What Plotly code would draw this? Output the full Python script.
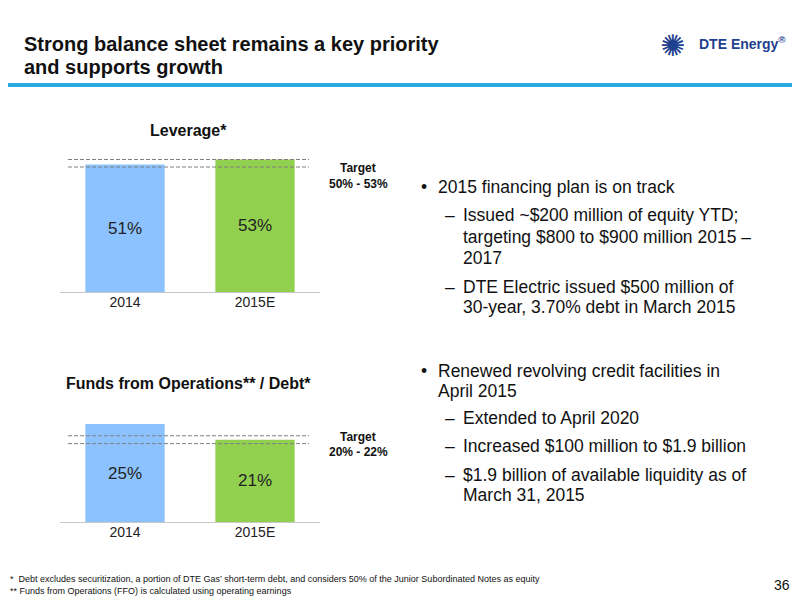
import plotly.graph_objects as go

years = ["2014", "2015E"]
leverage = [51, 53]
leverage_target = [50, 53]
ffo = [25, 21]
ffo_target = [20, 22]
bar_colors = ["#8CC2FF", "#92D050"]

OFF = 8
W, H = 792, 592
def py(y): return 1 - (y - OFF) / H
def px(x): return (x - OFF) / W

fig = go.Figure()
shapes = [
    dict(type="line", xref="paper", yref="paper", x0=0, x1=1, y0=py(85), y1=py(85),
         line=dict(color="#29ABE2", width=4)),
    dict(type="line", xref="paper", yref="paper", x0=px(60), x1=px(320), y0=py(292.5), y1=py(292.5),
         line=dict(color="#C8C8C8", width=1)),
    dict(type="line", xref="paper", yref="paper", x0=px(60), x1=px(320), y0=py(522.5), y1=py(522.5),
         line=dict(color="#C8C8C8", width=1)),
]
for vals, tgt, xa, ya in [(leverage, leverage_target, "x", "y"), (ffo, ffo_target, "x2", "y2")]:
    fig.add_trace(go.Bar(x=years, y=vals, xaxis=xa, yaxis=ya, width=0.61,
                         marker=dict(color=bar_colors, line=dict(width=0)),
                         text=[f"{v}%" for v in vals], textposition="inside",
                         insidetextanchor="middle",
                         textfont=dict(family="Liberation Sans", size=17, color="#222"),
                         hoverinfo="skip", showlegend=False))
    for t in tgt:
        shapes.append(dict(type="line", xref="paper", yref=ya, x0=px(68), x1=px(309), y0=t, y1=t,
                           line=dict(color="#7F7F7F", width=1, dash="4px,2px")))

ax = dict(type="category", range=[-0.5, 1.5], showgrid=False, zeroline=False,
          showline=False, ticks="", tickfont=dict(family="Liberation Sans", size=14, color="#222"))
fig.update_layout(
    width=W, height=H, autosize=False, margin=dict(l=0, r=0, t=0, b=0),
    paper_bgcolor="white", plot_bgcolor="rgba(0,0,0,0)",
    xaxis=dict(ax, domain=[px(60), px(320)], anchor="y"),
    yaxis=dict(range=[0, 60], domain=[py(292), py(142)], visible=False),
    xaxis2=dict(ax, domain=[px(60), px(320)], anchor="y2"),
    yaxis2=dict(range=[0, 30], domain=[py(522), py(404.4)], visible=False),
    shapes=shapes,
)

def ann(text, x, y, size=16, bold=False, family="Liberation Sans", color="#111", xanchor="left"):
    if bold:
        text = f"<b>{text}</b>"
    fig.add_annotation(text=text, x=px(x), y=py(y), xref="paper", yref="paper",
                       xanchor=xanchor, yanchor="middle", showarrow=False,
                       font=dict(family=family, size=size, color=color))

ann("Strong balance sheet remains a key priority", 22, 44, 20, True)
ann("and supports growth", 22, 67, 20, True)
ann("DTE Energy<sup>®</sup>", 697, 43, 14, True, "Liberation Sans", "#1F3F8F")
ann("✺", 672, 45, 30, False, "DejaVu Sans", "#1F3F8F", "center")

ann("Leverage*", 188, 130, 16, True, xanchor="center")
ann("Funds from Operations** / Debt*", 188, 383, 16, True, xanchor="center")
ann("Target", 358, 168, 12, True, xanchor="center")
ann("50% - 53%", 358, 184, 12, True, xanchor="center")
ann("Target", 358, 437, 12, True, xanchor="center")
ann("20% - 22%", 358, 452, 12, True, xanchor="center")

lines = [
    ("•", 419, "2015 financing plan is on track", 436, 187),
    ("–", 443, "Issued ~$200 million of equity YTD;", 461, 215),
    (None, 0, "targeting $800 to $900 million 2015 –", 461, 237),
    (None, 0, "2017", 461, 258),
    ("–", 443, "DTE Electric issued $500 million of", 461, 287),
    (None, 0, "30-year, 3.70% debt in March 2015", 461, 307),
    ("•", 419, "Renewed revolving credit facilities in", 436, 371),
    (None, 0, "April 2015", 436, 391),
    ("–", 443, "Extended to April 2020", 461, 418),
    ("–", 443, "Increased $100 million to $1.9 billion", 461, 446),
    ("–", 443, "$1.9 billion of available liquidity as of", 461, 475),
    (None, 0, "March 31, 2015", 461, 495),
]
for b, bx, t, tx, y in lines:
    if b:
        ann(b, bx, y, 17.5)
    ann(t, tx, y, 17.5)

ann("*  Debt excludes securitization, a portion of DTE Gas’ short-term debt, and considers 50% of the Junior Subordinated Notes as equity",
    8, 579, 9)
ann("** Funds from Operations (FFO) is calculated using operating earnings", 8, 591, 9)
ann("36", 792, 585, 14, False, "Liberation Sans", xanchor="right")

fig.write_html("out.html")
